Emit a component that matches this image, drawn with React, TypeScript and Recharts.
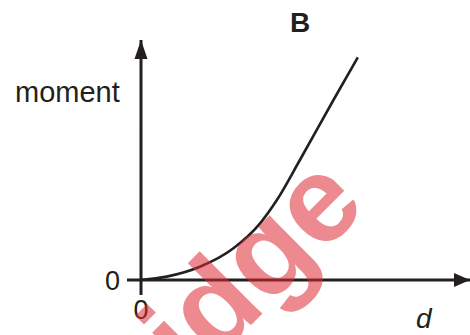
import React from "react";
import {
  LineChart,
  Line,
  XAxis,
  YAxis,
  ReferenceDot,
} from "recharts";

// curve (d, moment), axes run 0..10
const dValues = [0, 0.78, 1.79, 2.81, 3.62, 4.13, 4.83, 5.85, 6.59];
const momentValues = [0, 0.14, 0.55, 1.32, 2.36, 3.33, 5.0, 7.5, 9.28];
const xTicks = [0];
const yTicks = [0];
const AXIS_MAX = 10;

const INK = "#231f20";
const FONT = "'Liberation Sans', Arial, sans-serif";

const data = dValues.map((d, i) => ({ d, moment: momentValues[i] }));

// arrow heads drawn at the axis ends
const ArrowRight = (props: any) => {
  const { cx, cy } = props;
  return <path d={`M${cx},${cy} L${cx - 16},${cy - 7} L${cx - 16},${cy + 7} Z`} fill={INK} />;
};
const ArrowUp = (props: any) => {
  const { cx, cy } = props;
  return <path d={`M${cx},${cy} L${cx - 6.5},${cy + 19} L${cx + 6.5},${cy + 19} Z`} fill={INK} />;
};

export default function App() {
  return (
    <div
      style={{
        position: "absolute",
        left: 0,
        top: 0,
        width: 470,
        height: 335,
        background: "#fff",
        fontFamily: FONT,
      }}
    >
      <LineChart
        width={470}
        height={335}
        data={data}
        margin={{ top: 40, right: 0, bottom: 0, left: 0 }}
      >
        <XAxis
          dataKey="d"
          type="number"
          domain={[0, AXIS_MAX]}
          ticks={xTicks}
          height={55}
          tickSize={15}
          tickMargin={5}
          axisLine={{ stroke: INK, strokeWidth: 3 }}
          tickLine={{ stroke: INK, strokeWidth: 3 }}
          tick={{ fill: INK, fontSize: 27, fontFamily: FONT }}
        />
        <YAxis
          type="number"
          domain={[0, AXIS_MAX]}
          ticks={yTicks}
          width={141}
          tickSize={14}
          tickMargin={7}
          axisLine={{ stroke: INK, strokeWidth: 3 }}
          tickLine={{ stroke: INK, strokeWidth: 3 }}
          tick={{ fill: INK, fontSize: 27, fontFamily: FONT }}
        />
        <Line
          type="monotone"
          dataKey="moment"
          stroke={INK}
          strokeWidth={2.6}
          dot={false}
          isAnimationActive={false}
        />
        <ReferenceDot x={AXIS_MAX} y={0} ifOverflow="visible" shape={ArrowRight} />
        <ReferenceDot x={0} y={AXIS_MAX} ifOverflow="visible" shape={ArrowUp} />
      </LineChart>

      {/* labels + watermark on top */}
      <svg
        width={470}
        height={335}
        style={{ position: "absolute", left: 0, top: 0, pointerEvents: "none" }}
      >
        <defs>
          <clipPath id="wm-clip" clipPathUnits="userSpaceOnUse">
            <rect x={-2000} y={-300} width={1994} height={600} />
          </clipPath>
        </defs>
        <text x={300} y={32} textAnchor="middle" fontSize={28} fontWeight="bold" fill={INK} fontFamily={FONT}>
          B
        </text>
        <text x={15} y={102} fontSize={29} fill={INK} fontFamily={FONT}>
          moment
        </text>
        <text x={416} y={328} fontSize={28} fontStyle="italic" fill={INK} fontFamily={FONT}>
          d
        </text>
        <g transform="translate(369 207) rotate(-45)">
          <text
            x={0}
            y={0}
            textAnchor="end"
            fontSize={122}
            fontWeight="bold"
            fill="#dc2a36"
            opacity={0.55}
            fontFamily={FONT}
            clipPath="url(#wm-clip)"
          >
            Cambridge
          </text>
        </g>
      </svg>
    </div>
  );
}
